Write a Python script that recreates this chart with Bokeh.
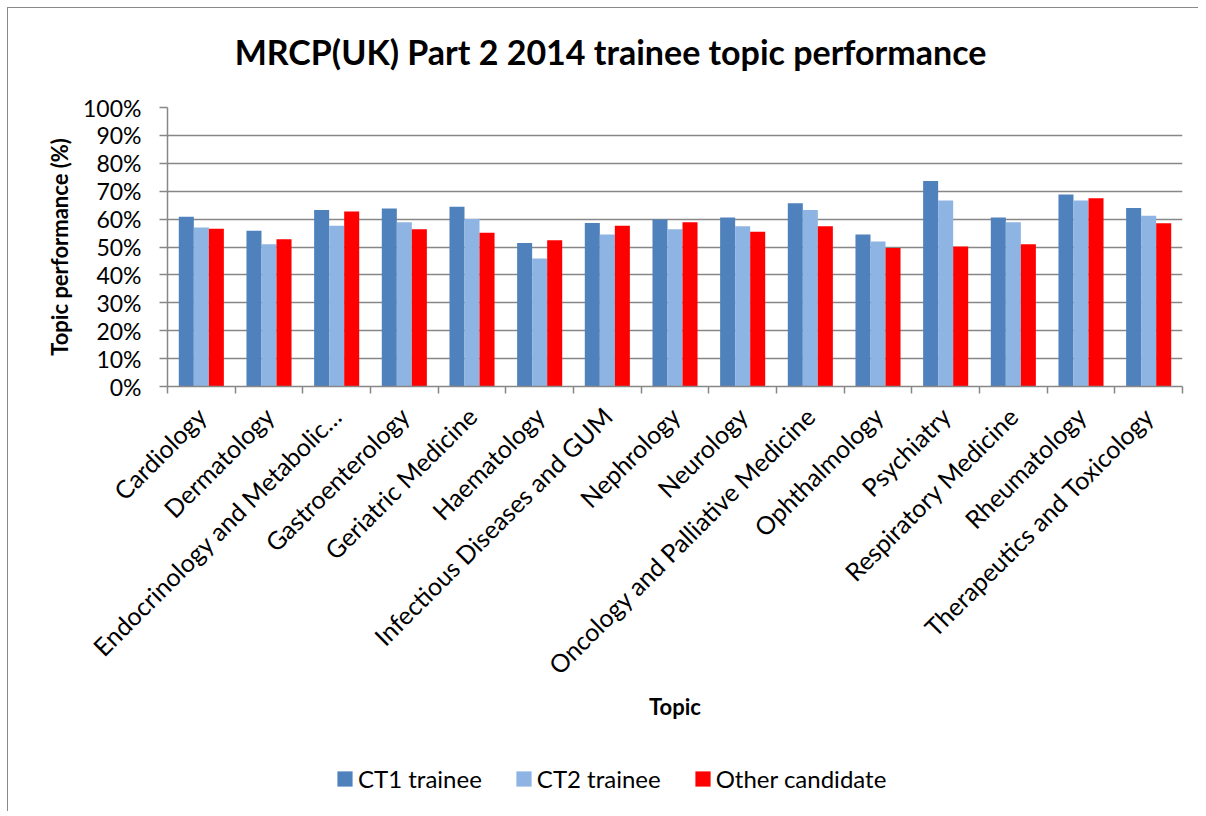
import numpy as np
from bokeh.plotting import figure
from bokeh.layouts import column
from bokeh.models import (Range1d, FixedTicker, NumeralTickFormatter, Legend,
                          LegendItem, ColumnDataSource, Label)
from bokeh.transform import dodge
from bokeh.embed import file_html
from bokeh.resources import INLINE

title_text = "MRCP(UK) Part 2 2014 trainee topic performance"
topics = ["Cardiology", "Dermatology", "Endocrinology and Metabolic…",
          "Gastroenterology", "Geriatric Medicine", "Haematology",
          "Infectious Diseases and GUM", "Nephrology", "Neurology",
          "Oncology and Palliative Medicine", "Ophthalmology", "Psychiatry",
          "Respiratory Medicine", "Rheumatology", "Therapeutics and Toxicology"]
ct1 = [60.8, 55.8, 63.3, 63.8, 64.4, 51.4, 58.6, 59.9, 60.6, 65.7, 54.5, 73.7, 60.6, 68.8, 64.0]
ct2 = [57.0, 51.0, 57.6, 58.9, 60.0, 45.9, 54.5, 56.4, 57.4, 63.3, 52.0, 66.7, 58.9, 66.7, 61.2]
other = [56.5, 52.8, 62.7, 56.4, 55.1, 52.4, 57.6, 58.9, 55.5, 57.4, 49.6, 50.2, 51.0, 67.5, 58.5]
series_names = ["CT1 trainee", "CT2 trainee", "Other candidate"]
series_colors = ["#4F81BD", "#8EB4E3", "#FF0000"]
y_ticks = [0, 10, 20, 30, 40, 50, 60, 70, 80, 90, 100]

FONT = "Lato"
GREY = "#878787"
BORDER = "1px solid #8a8a8a"
W = 1190


def strip(height):
    f = figure(width=W, height=height, output_backend="svg", toolbar_location=None,
               x_range=Range1d(0, 1), y_range=Range1d(0, 1),
               min_border_left=0, min_border_right=0, min_border_top=0,
               min_border_bottom=0)
    f.axis.visible = False
    f.axis.axis_line_color = None
    f.axis.major_tick_line_color = None
    f.axis.minor_tick_line_color = None
    f.grid.visible = False
    f.outline_line_color = None
    return f


# ---- title strip ----
t = strip(83)
t.add_layout(Label(x=0.4365, y=0.4819, text=title_text, text_align="center",
                   text_baseline="middle", text_font=FONT, text_font_size="34px",
                   text_font_style="bold", text_color="black"))

# ---- main chart ----
n = len(topics)
centers = np.arange(n) + 0.5
src = ColumnDataSource(dict(x=centers, ct1=np.array(ct1) / 100,
                            ct2=np.array(ct2) / 100, other=np.array(other) / 100))

p = figure(width=W, height=656, output_backend="svg", toolbar_location=None,
           x_range=Range1d(0, n), y_range=Range1d(0, 1),
           min_border_left=159, min_border_right=16, min_border_top=16,
           min_border_bottom=361)
p.outline_line_color = None

bw = 0.222
for key, off, col in zip(["ct1", "ct2", "other"], [-bw, 0, bw], series_colors):
    p.vbar(x=dodge("x", off), top=key, width=bw, source=src,
           fill_color=col, line_color=None)

# y axis
p.yaxis.ticker = FixedTicker(ticks=[v / 100 for v in y_ticks])
p.yaxis.formatter = NumeralTickFormatter(format="0%")
p.yaxis.major_label_text_font = FONT
p.yaxis.major_label_text_font_size = "23px"
p.yaxis.major_label_text_color = "black"
p.yaxis.axis_line_color = GREY
p.yaxis.axis_line_width = 1.5
p.yaxis.major_tick_line_color = GREY
p.yaxis.major_tick_line_width = 1.5
p.yaxis.major_tick_in = 0
p.yaxis.major_tick_out = 8
p.yaxis.minor_tick_line_color = None
p.yaxis.major_label_standoff = 18
p.yaxis.axis_label = "Topic performance (%)"
p.yaxis.axis_label_text_font = FONT
p.yaxis.axis_label_text_font_size = "22px"
p.yaxis.axis_label_text_font_style = "bold"
p.yaxis.axis_label_text_color = "black"
p.yaxis.axis_label_standoff = 7

p.ygrid.ticker = FixedTicker(ticks=[v / 100 for v in y_ticks])
p.ygrid.grid_line_color = GREY
p.ygrid.grid_line_width = 1.5
p.xgrid.visible = False

# x axis
p.xaxis.ticker = FixedTicker(ticks=list(centers), minor_ticks=list(range(n + 1)))
p.xaxis.major_label_overrides = {float(c): name for c, name in zip(centers, topics)}
p.xaxis.major_label_orientation = np.pi / 4
p.xaxis.major_label_text_font = FONT
p.xaxis.major_label_text_font_size = "25px"
p.xaxis.major_label_text_color = "black"
p.xaxis.major_tick_line_color = None
p.xaxis.minor_tick_line_color = GREY
p.xaxis.minor_tick_line_width = 1.5
p.xaxis.minor_tick_in = 0
p.xaxis.minor_tick_out = 7
p.xaxis.axis_line_color = GREY
p.xaxis.axis_line_width = 1.5
p.xaxis.major_label_standoff = 18
p.xaxis.axis_label = "Topic"
p.xaxis.axis_label_text_font = FONT
p.xaxis.axis_label_text_font_size = "22px"
p.xaxis.axis_label_text_font_style = "bold"
p.xaxis.axis_label_text_color = "black"
p.xaxis.axis_label_standoff = 0

# ---- legend strip ----
q = strip(64)
swatch = ColumnDataSource(dict(x=[0.5], top=[0]))
legend_renderers = [q.vbar(x="x", top="top", bottom=0, width=0.01, source=swatch,
                           fill_color=c, line_color=None) for c in series_colors]
legend = Legend(items=[LegendItem(label=nm, renderers=[r])
                       for nm, r in zip(series_names, legend_renderers)],
                orientation="horizontal", location=(168, 18),
                label_text_font=FONT, label_text_font_size="24px",
                label_text_color="black", glyph_width=19, glyph_height=19,
                label_standoff=4, spacing=32, padding=0, margin=0,
                border_line_color=None, background_fill_alpha=0)
q.add_layout(legend, "center")

layout = column(t, p, q, spacing=0)
layout.styles = {"margin-left": "7px", "margin-top": "7px",
                 "border-left": BORDER, "border-top": BORDER}

open("out.html", "w").write(file_html(layout, INLINE))
